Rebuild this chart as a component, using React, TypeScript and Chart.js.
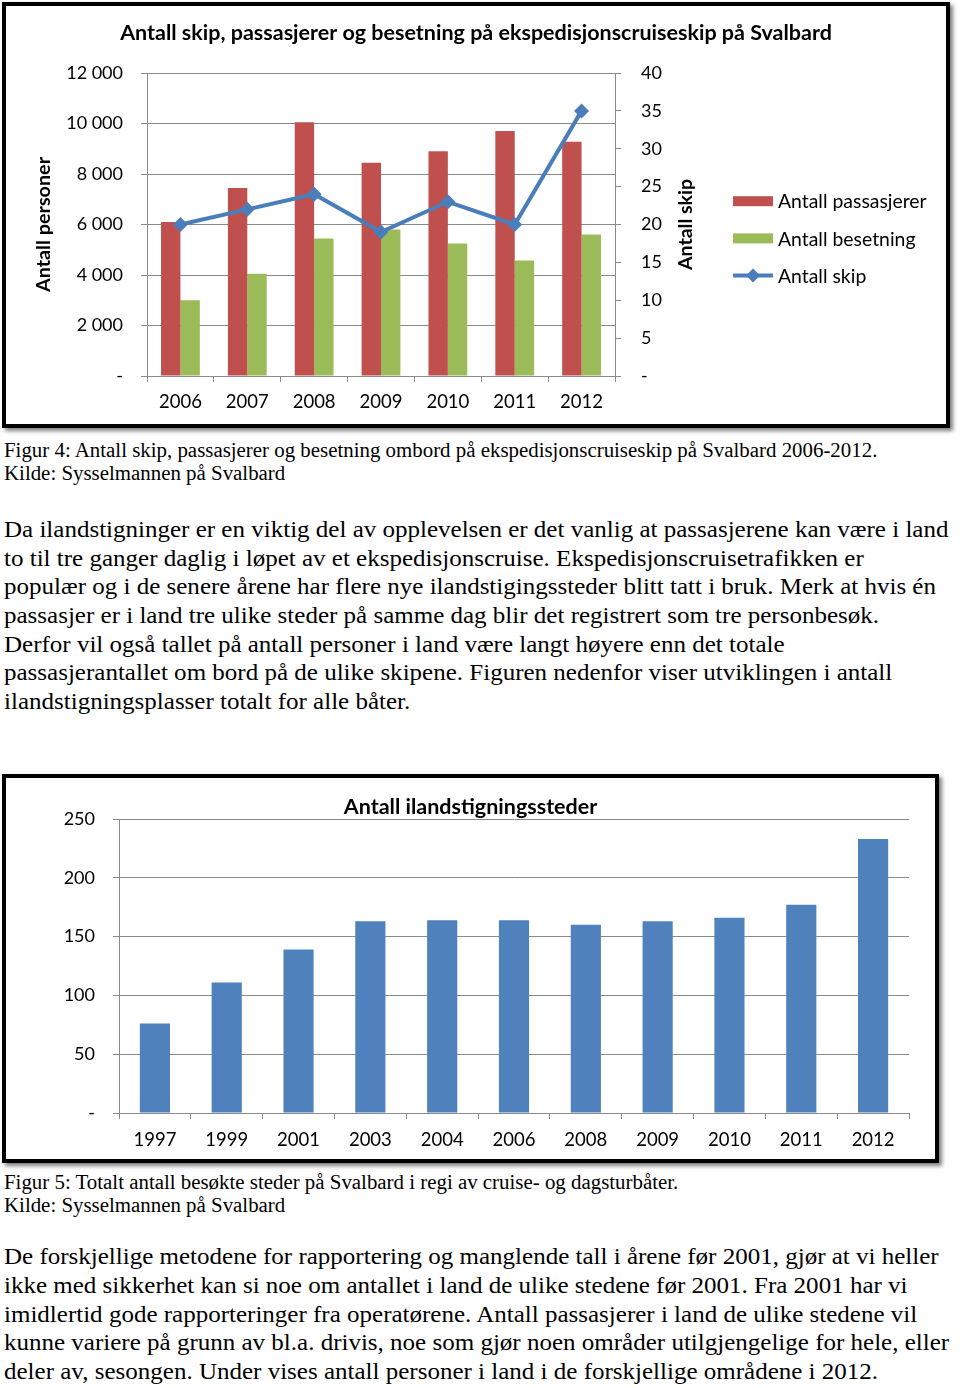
import React, { useEffect, useRef } from "react";
import { Chart, registerables } from "chart.js";

Chart.register(...registerables);

// ---------- data ----------
const years1 = ["2006", "2007", "2008", "2009", "2010", "2011", "2012"];
const passengers = [6100, 7450, 10050, 8450, 8900, 9700, 9280];
const crew = [3000, 4050, 5450, 5800, 5250, 4570, 5600];
const ships = [20, 22, 24, 19, 23, 20, 35];
const seriesNames = ["Antall passasjerer", "Antall besetning", "Antall skip"];
const title1 = "Antall skip, passasjerer og besetning på ekspedisjonscruiseskip på Svalbard";
const leftAxisTitle = "Antall personer";
const rightAxisTitle = "Antall skip";

const years2 = ["1997", "1999", "2001", "2003", "2004", "2006", "2008", "2009", "2010", "2011", "2012"];
const landingSites = [76, 111, 139, 163, 164, 164, 160, 163, 166, 177, 233];
const title2 = "Antall ilandstigningssteder";

const caption1 = [
  "Figur 4: Antall skip, passasjerer og besetning ombord på ekspedisjonscruiseskip på Svalbard 2006-2012.",
  "Kilde: Sysselmannen på Svalbard",
];
const para1 = [
  "Da ilandstigninger er en viktig del av opplevelsen er det vanlig at passasjerene kan være i land",
  "to til tre ganger daglig i løpet av et ekspedisjonscruise. Ekspedisjonscruisetrafikken er",
  "populær og i de senere årene har flere nye ilandstigingssteder blitt tatt i bruk. Merk at hvis én",
  "passasjer er i land tre ulike steder på samme dag blir det registrert som tre personbesøk.",
  "Derfor vil også tallet på antall personer i land være langt høyere enn det totale",
  "passasjerantallet om bord på de ulike skipene. Figuren nedenfor viser utviklingen i antall",
  "ilandstigningsplasser totalt for alle båter.",
];
const caption2 = [
  "Figur 5: Totalt antall besøkte steder på Svalbard i regi av cruise- og dagsturbåter.",
  "Kilde: Sysselmannen på Svalbard",
];
const para2 = [
  "De forskjellige metodene for rapportering og manglende tall i årene før 2001, gjør at vi heller",
  "ikke med sikkerhet kan si noe om antallet i land de ulike stedene før 2001. Fra 2001 har vi",
  "imidlertid gode rapporteringer fra operatørene. Antall passasjerer i land de ulike stedene vil",
  "kunne variere på grunn av bl.a. drivis, noe som gjør noen områder utilgjengelige for hele, eller",
  "deler av, sesongen. Under vises antall personer i land i de forskjellige områdene i 2012.",
];

// ---------- styles ----------
const RED = "#C0504D";
const GREEN = "#9BBB59";
const BLUE = "#4F81BD";
const LINE_BLUE = "#4A7EBB";
const GRID = "#8A8A8A";
const FONT = "Lato";
const SERIF = "'Liberation Serif', 'Times New Roman', serif";

const fmt = (v: number) => (v === 0 ? "-" : String(v).replace(/\B(?=(\d{3})+(?!\d))/g, " "));

const chart1Extras = {
  id: "chart1Extras",
  afterDraw(chart: any) {
    const { ctx, chartArea } = chart;
    const y1 = chart.scales.y1;
    ctx.save();
    ctx.font = `bold 19.5px ${FONT}`;
    ctx.fillStyle = "#000";
    ctx.textAlign = "center";
    ctx.textBaseline = "middle";
    ctx.translate(y1.left + 71, (chartArea.top + chartArea.bottom) / 2);
    ctx.rotate(-Math.PI / 2);
    ctx.fillText(rightAxisTitle, 0, 0);
    ctx.restore();

    // legend
    const lx = y1.left + 118;
    const ly0 = 195.2;
    const dy = 37.2;
    seriesNames.forEach((name, i) => {
      const ds = chart.data.datasets.find((d: any) => d.label === name);
      if (!ds) return;
      const y = ly0 + i * dy;
      ctx.save();
      if (ds.type === "line") {
        ctx.strokeStyle = ds.borderColor;
        ctx.lineWidth = 4;
        ctx.beginPath();
        ctx.moveTo(lx, y);
        ctx.lineTo(lx + 40, y);
        ctx.stroke();
        const r = 7;
        ctx.fillStyle = ds.pointBackgroundColor;
        ctx.beginPath();
        ctx.moveTo(lx + 20, y - r);
        ctx.lineTo(lx + 20 + r, y);
        ctx.lineTo(lx + 20, y + r);
        ctx.lineTo(lx + 20 - r, y);
        ctx.closePath();
        ctx.fill();
      } else {
        ctx.fillStyle = ds.backgroundColor;
        ctx.fillRect(lx, y - 5, 40, 10);
      }
      ctx.fillStyle = "#000";
      ctx.font = `19.4px ${FONT}`;
      ctx.textAlign = "left";
      ctx.textBaseline = "middle";
      ctx.fillText(name, lx + 45, y + 1);
      ctx.restore();
    });
  },
};

function ChartOne() {
  const ref = useRef<HTMLCanvasElement | null>(null);
  useEffect(() => {
    if (!ref.current) return;
    const chart = new Chart(ref.current, {
      type: "bar",
      data: {
        labels: years1,
        datasets: [
          {
            type: "line",
            label: seriesNames[2],
            data: ships,
            yAxisID: "y1",
            borderColor: LINE_BLUE,
            backgroundColor: LINE_BLUE,
            borderWidth: 4,
            pointStyle: "rectRot",
            pointRadius: 7.5,
            pointBackgroundColor: LINE_BLUE,
            pointBorderColor: LINE_BLUE,
            pointBorderWidth: 0,
            tension: 0,
            order: 0,
          } as any,
          {
            type: "bar",
            label: seriesNames[0],
            data: passengers,
            yAxisID: "y",
            backgroundColor: RED,
            categoryPercentage: 0.58,
            barPercentage: 1,
            order: 1,
          },
          {
            type: "bar",
            label: seriesNames[1],
            data: crew,
            yAxisID: "y",
            backgroundColor: GREEN,
            categoryPercentage: 0.58,
            barPercentage: 1,
            order: 1,
          },
        ],
      },
      options: {
        responsive: false,
        maintainAspectRatio: false,
        animation: false,
        layout: { padding: 0 },
        plugins: {
          legend: { display: false },
          tooltip: { enabled: false },
          title: {
            display: true,
            text: title1,
            color: "#000",
            font: { family: FONT, size: 21.5, weight: "bold", lineHeight: 1 },
            padding: { top: 16.25, bottom: 29.25 },
          },
        },
        scales: {
          x: {
            offset: true,
            grid: { offset: true, drawOnChartArea: false, drawTicks: true, tickLength: 6, color: GRID },
            border: { display: true, color: GRID },
            ticks: { color: "#000", font: { family: FONT, size: 18.5 }, padding: 9, maxRotation: 0, autoSkip: false },
            afterFit: (s: any) => {
              s.height = 48;
            },
          },
          y: {
            position: "left",
            min: 0,
            max: 12000,
            grid: { color: GRID, tickLength: 6, drawTicks: true },
            border: { display: true, color: GRID },
            ticks: {
              stepSize: 2000,
              color: "#000",
              font: { family: FONT, size: 18 },
              padding: 18,
              callback: (v: any) => fmt(Number(v)),
            },
            title: {
              display: true,
              text: leftAxisTitle,
              color: "#000",
              font: { family: FONT, size: 19.8, weight: "bold" },
              padding: { top: 26, bottom: 0 },
            },
            afterFit: (s: any) => {
              s.width = 141;
            },
          },
          y1: {
            position: "right",
            min: 0,
            max: 40,
            grid: { drawOnChartArea: false, color: GRID, tickLength: 6, drawTicks: true },
            border: { display: true, color: GRID },
            ticks: {
              stepSize: 5,
              color: "#000",
              font: { family: FONT, size: 18 },
              padding: 20,
              callback: (v: any) => fmt(Number(v)),
            },
            afterFit: (s: any) => {
              s.width = 331;
            },
          },
        },
      },
      plugins: [chart1Extras],
    });
    return () => chart.destroy();
  }, []);
  return <canvas ref={ref} width={940} height={418} style={{ display: "block", width: 940, height: 418 }} />;
}

function ChartTwo() {
  const ref = useRef<HTMLCanvasElement | null>(null);
  useEffect(() => {
    if (!ref.current) return;
    const chart = new Chart(ref.current, {
      type: "bar",
      data: {
        labels: years2,
        datasets: [
          {
            label: title2,
            data: landingSites,
            backgroundColor: BLUE,
            categoryPercentage: 0.42,
            barPercentage: 1,
          },
        ],
      },
      options: {
        responsive: false,
        maintainAspectRatio: false,
        animation: false,
        layout: { padding: 0 },
        plugins: {
          legend: { display: false },
          tooltip: { enabled: false },
          title: {
            display: true,
            text: title2,
            color: "#000",
            font: { family: FONT, size: 21.5, weight: "bold", lineHeight: 1 },
            padding: { top: 18.25, bottom: 1.25 },
          },
        },
        scales: {
          x: {
            offset: true,
            grid: { offset: true, drawOnChartArea: false, drawTicks: true, tickLength: 6, color: GRID },
            border: { display: true, color: GRID },
            ticks: { color: "#000", font: { family: FONT, size: 18.5 }, padding: 10, maxRotation: 0, autoSkip: false },
            afterFit: (s: any) => {
              s.height = 46;
            },
          },
          y: {
            position: "left",
            min: 0,
            max: 250,
            grid: { color: GRID, tickLength: 6, drawTicks: true },
            border: { display: true, color: GRID },
            ticks: {
              stepSize: 50,
              color: "#000",
              font: { family: FONT, size: 18 },
              padding: 18,
              callback: (v: any) => fmt(Number(v)),
            },
            afterFit: (s: any) => {
              s.width = 113;
            },
          },
          spacer: {
            position: "right",
            display: true,
            grid: { display: false },
            border: { display: false },
            ticks: { display: false },
            afterFit: (s: any) => {
              s.width = 26;
            },
          },
        },
      },
    });
    return () => chart.destroy();
  }, []);
  return <canvas ref={ref} width={929} height={381} style={{ display: "block", width: 929, height: 381 }} />;
}

function TextBlock({ lines, baseline, size, lh, sx }: { lines: string[]; baseline: number; size: number; lh: number; sx: number }) {
  const top = baseline - (lh - 1.107 * size) / 2 - 0.891 * size;
  return (
    <div
      style={{
        position: "absolute",
        left: 4,
        top,
        fontFamily: SERIF,
        fontSize: size,
        lineHeight: `${lh}px`,
        color: "#000",
        whiteSpace: "nowrap",
        transform: `scaleX(${sx})`,
        transformOrigin: "left top",
      }}
    >
      {lines.map((l, i) => (
        <div key={i}>{l}</div>
      ))}
    </div>
  );
}

const frameStyle = (left: number, top: number, w: number, h: number): React.CSSProperties => ({
  position: "absolute",
  left,
  top,
  width: w,
  height: h,
  boxSizing: "border-box",
  border: "4px solid #000",
  background: "#fff",
  boxShadow: "3px 3px 4px rgba(0,0,0,0.5)",
});

export default function App() {
  return (
    <div style={{ position: "absolute", left: 0, top: 0, width: 960, height: 1388, background: "#fff", overflow: "hidden" }}>
      <div style={frameStyle(2, 2, 948, 426)}>
        <ChartOne />
      </div>
      <TextBlock lines={caption1} baseline={457.5} size={20} lh={23.3} sx={1.044} />
      <TextBlock lines={para1} baseline={537.3} size={24} lh={28.67} sx={1.042} />
      <div style={frameStyle(2, 774, 937, 389)}>
        <ChartTwo />
      </div>
      <TextBlock lines={caption2} baseline={1189} size={20} lh={23.4} sx={1.044} />
      <TextBlock lines={para2} baseline={1264.3} size={24} lh={28.9} sx={1.042} />
    </div>
  );
}
